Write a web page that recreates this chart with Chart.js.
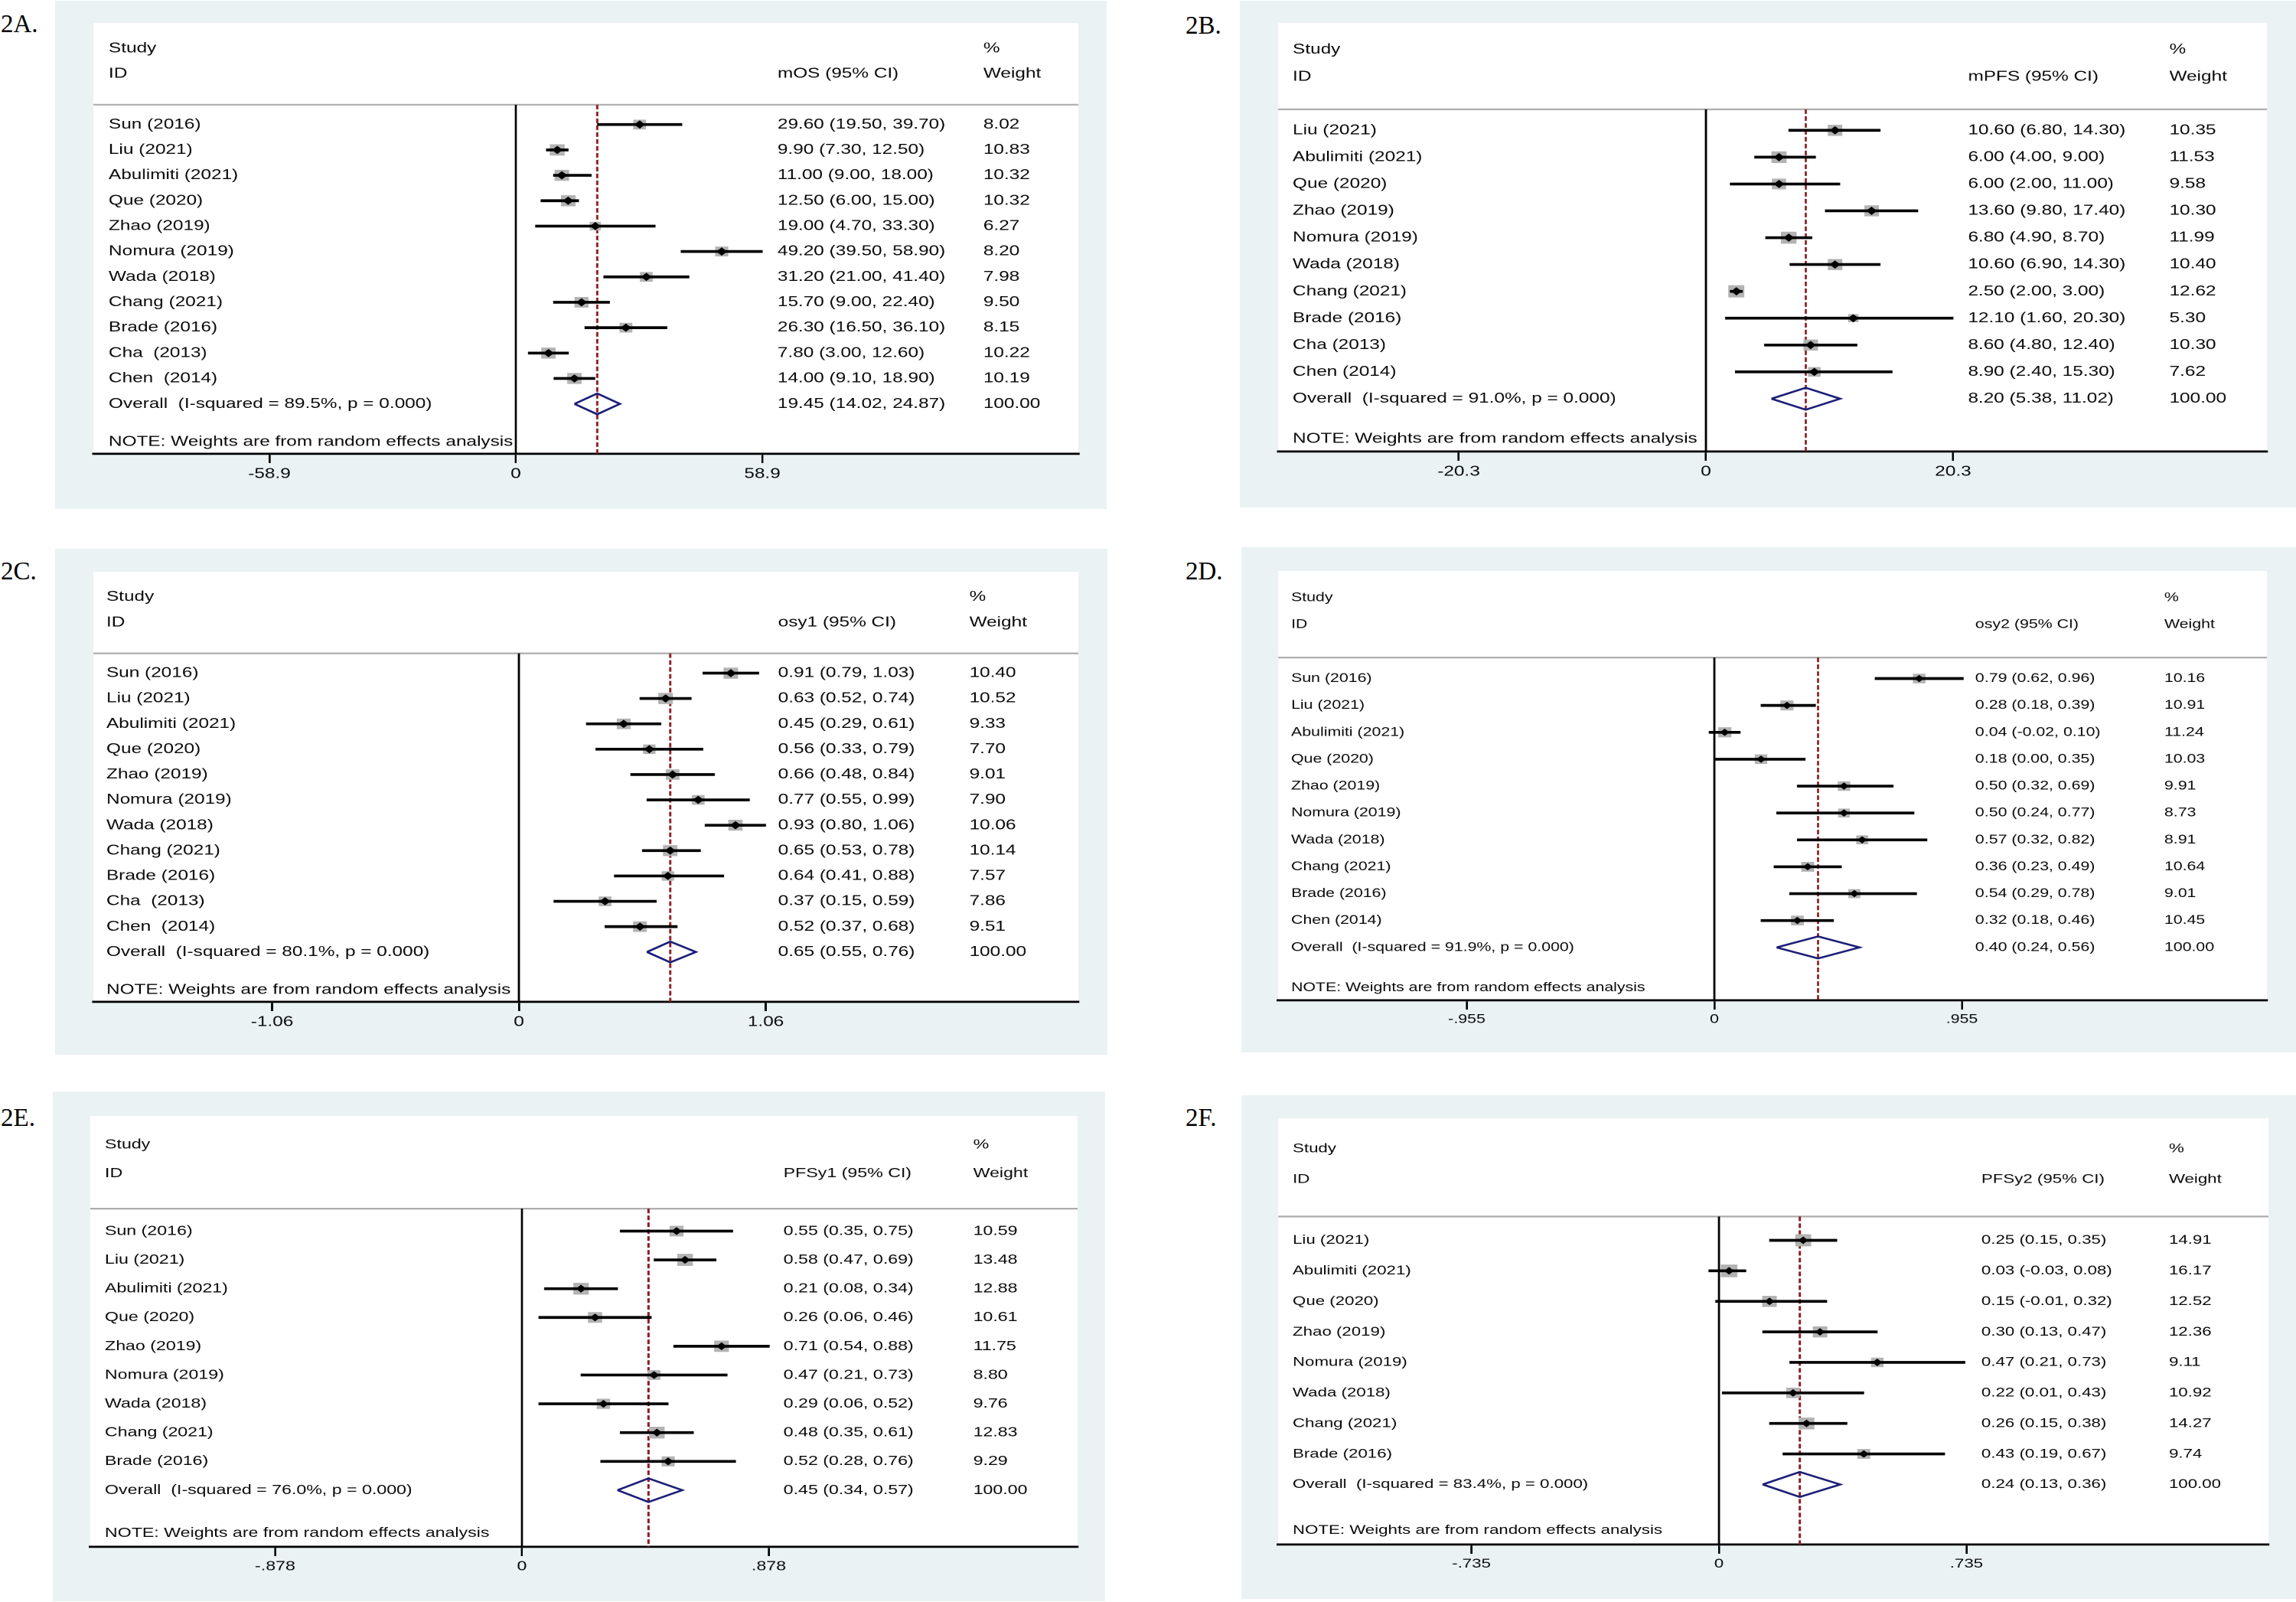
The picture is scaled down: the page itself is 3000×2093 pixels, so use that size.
<!DOCTYPE html>
<html>
<head>
<meta charset="utf-8">
<script src="https://cdn.jsdelivr.net/npm/chart.js@4.4.1/dist/chart.umd.min.js"></script>
<style>
html, body { margin: 0; padding: 0; background: #ffffff; }
#page { position: relative; width: 3000px; height: 2093px; overflow: hidden; background: #ffffff; }
.lbl { position: absolute; font-family: "Liberation Serif", "DejaVu Serif", serif; font-size: 33px; line-height: 33px; color: #000; white-space: nowrap; }
#page canvas { position: absolute; }
</style>
</head>
<body>
<div id="page"></div>
<script>
// ---------------- DATA ----------------
// 2A  mOS
const mosStudies = ["Sun (2016)", "Liu (2021)", "Abulimiti (2021)", "Que (2020)", "Zhao (2019)", "Nomura (2019)", "Wada (2018)", "Chang (2021)", "Brade (2016)", "Cha  (2013)", "Chen  (2014)"];
const mosEst = [29.60, 9.90, 11.00, 12.50, 19.00, 49.20, 31.20, 15.70, 26.30, 7.80, 14.00];
const mosLo = [19.50, 7.30, 9.00, 6.00, 4.70, 39.50, 21.00, 9.00, 16.50, 3.00, 9.10];
const mosHi = [39.70, 12.50, 18.00, 15.00, 33.30, 58.90, 41.40, 22.40, 36.10, 12.60, 18.90];
const mosWeight = [8.02, 10.83, 10.32, 10.32, 6.27, 8.20, 7.98, 9.50, 8.15, 10.22, 10.19];
const mosOverall = [19.45, 14.02, 24.87];
const mosI2 = 89.5;
const mosTickValues = [-58.9, 0, 58.9];
const mosTickLabels = ["-58.9", "0", "58.9"];

// 2B  mPFS
const mpfsStudies = ["Liu (2021)", "Abulimiti (2021)", "Que (2020)", "Zhao (2019)", "Nomura (2019)", "Wada (2018)", "Chang (2021)", "Brade (2016)", "Cha (2013)", "Chen (2014)"];
const mpfsEst = [10.60, 6.00, 6.00, 13.60, 6.80, 10.60, 2.50, 12.10, 8.60, 8.90];
const mpfsLo = [6.80, 4.00, 2.00, 9.80, 4.90, 6.90, 2.00, 1.60, 4.80, 2.40];
const mpfsHi = [14.30, 9.00, 11.00, 17.40, 8.70, 14.30, 3.00, 20.30, 12.40, 15.30];
const mpfsWeight = [10.35, 11.53, 9.58, 10.30, 11.99, 10.40, 12.62, 5.30, 10.30, 7.62];
const mpfsOverall = [8.20, 5.38, 11.02];
const mpfsI2 = 91.0;
const mpfsTickValues = [-20.3, 0, 20.3];
const mpfsTickLabels = ["-20.3", "0", "20.3"];

// 2C  osy1
const osy1Studies = ["Sun (2016)", "Liu (2021)", "Abulimiti (2021)", "Que (2020)", "Zhao (2019)", "Nomura (2019)", "Wada (2018)", "Chang (2021)", "Brade (2016)", "Cha  (2013)", "Chen  (2014)"];
const osy1Est = [0.91, 0.63, 0.45, 0.56, 0.66, 0.77, 0.93, 0.65, 0.64, 0.37, 0.52];
const osy1Lo = [0.79, 0.52, 0.29, 0.33, 0.48, 0.55, 0.80, 0.53, 0.41, 0.15, 0.37];
const osy1Hi = [1.03, 0.74, 0.61, 0.79, 0.84, 0.99, 1.06, 0.78, 0.88, 0.59, 0.68];
const osy1Weight = [10.40, 10.52, 9.33, 7.70, 9.01, 7.90, 10.06, 10.14, 7.57, 7.86, 9.51];
const osy1Overall = [0.65, 0.55, 0.76];
const osy1I2 = 80.1;
const osy1TickValues = [-1.06, 0, 1.06];
const osy1TickLabels = ["-1.06", "0", "1.06"];

// 2D  osy2
const osy2Studies = ["Sun (2016)", "Liu (2021)", "Abulimiti (2021)", "Que (2020)", "Zhao (2019)", "Nomura (2019)", "Wada (2018)", "Chang (2021)", "Brade (2016)", "Chen (2014)"];
const osy2Est = [0.79, 0.28, 0.04, 0.18, 0.50, 0.50, 0.57, 0.36, 0.54, 0.32];
const osy2Lo = [0.62, 0.18, -0.02, 0.00, 0.32, 0.24, 0.32, 0.23, 0.29, 0.18];
const osy2Hi = [0.96, 0.39, 0.10, 0.35, 0.69, 0.77, 0.82, 0.49, 0.78, 0.46];
const osy2Weight = [10.16, 10.91, 11.24, 10.03, 9.91, 8.73, 8.91, 10.64, 9.01, 10.45];
const osy2Overall = [0.40, 0.24, 0.56];
const osy2I2 = 91.9;
const osy2TickValues = [-0.955, 0, 0.955];
const osy2TickLabels = ["-.955", "0", ".955"];

// 2E  PFSy1
const pfsy1Studies = ["Sun (2016)", "Liu (2021)", "Abulimiti (2021)", "Que (2020)", "Zhao (2019)", "Nomura (2019)", "Wada (2018)", "Chang (2021)", "Brade (2016)"];
const pfsy1Est = [0.55, 0.58, 0.21, 0.26, 0.71, 0.47, 0.29, 0.48, 0.52];
const pfsy1Lo = [0.35, 0.47, 0.08, 0.06, 0.54, 0.21, 0.06, 0.35, 0.28];
const pfsy1Hi = [0.75, 0.69, 0.34, 0.46, 0.88, 0.73, 0.52, 0.61, 0.76];
const pfsy1Weight = [10.59, 13.48, 12.88, 10.61, 11.75, 8.80, 9.76, 12.83, 9.29];
const pfsy1Overall = [0.45, 0.34, 0.57];
const pfsy1I2 = 76.0;
const pfsy1TickValues = [-0.878, 0, 0.878];
const pfsy1TickLabels = ["-.878", "0", ".878"];

// 2F  PFSy2
const pfsy2Studies = ["Liu (2021)", "Abulimiti (2021)", "Que (2020)", "Zhao (2019)", "Nomura (2019)", "Wada (2018)", "Chang (2021)", "Brade (2016)"];
const pfsy2Est = [0.25, 0.03, 0.15, 0.30, 0.47, 0.22, 0.26, 0.43];
const pfsy2Lo = [0.15, -0.03, -0.01, 0.13, 0.21, 0.01, 0.15, 0.19];
const pfsy2Hi = [0.35, 0.08, 0.32, 0.47, 0.73, 0.43, 0.38, 0.67];
const pfsy2Weight = [14.91, 16.17, 12.52, 12.36, 9.11, 10.92, 14.27, 9.74];
const pfsy2Overall = [0.24, 0.13, 0.36];
const pfsy2I2 = 83.4;
const pfsy2TickValues = [-0.735, 0, 0.735];
const pfsy2TickLabels = ["-.735", "0", ".735"];

const panelLabels = ["2A.", "2B.", "2C.", "2D.", "2E.", "2F."];
const columnTitles = ["mOS (95% CI)", "mPFS (95% CI)", "osy1 (95% CI)", "osy2 (95% CI)", "PFSy1 (95% CI)", "PFSy2 (95% CI)"];
const pValueText = "0.000";
const totalWeight = 100;
const noteText = "NOTE: Weights are from random effects analysis";

// ---------------- LAYOUT / STYLE ----------------
const S = 1.31;                 // horizontal stretch of the original figure
const FONT = '"Liberation Sans", Arial, sans-serif';
const TEXT = '#0a0a0a';
const PANEL_BG = '#eaf2f3';
const BOX = '#b3b3b3';
const NAVY = '#1c1f78';
const MAROON = '#8c1d24';

const layouts = [
  { grey: [72, 1, 1374, 664],   white: [122, 30, 1287, 563],   zero: 674,  tickPx: 322,   study: 20, estCol: 894, wtCol: 1163, font: 18.6, label: [1, 15] },
  { grey: [1620, 1, 1380, 662], white: [1670, 30, 1292, 560],  zero: 2229, tickPx: 323,   study: 19, estCol: 901, wtCol: 1164, font: 18.6, label: [1549, 17] },
  { grey: [72, 717, 1375, 661], white: [122, 747, 1287, 562],  zero: 678,  tickPx: 322.5, study: 17, estCol: 895, wtCol: 1145, font: 18.6, label: [1, 730] },
  { grey: [1622, 715, 1378, 660], white: [1670, 746, 1292, 561], zero: 2240, tickPx: 323.5, study: 17, estCol: 911, wtCol: 1158, font: 16.3, label: [1549, 730] },
  { grey: [69, 1426, 1375, 666], white: [118, 1458, 1290, 563], zero: 682,  tickPx: 322.5, study: 19, estCol: 906, wtCol: 1154, font: 17.7, label: [1, 1444] },
  { grey: [1622, 1431, 1378, 658], white: [1670, 1461, 1294, 557], zero: 2246, tickPx: 323.5, study: 19, estCol: 919, wtCol: 1164, font: 17.0, label: [1549, 1444] }
];

const panelData = [
  { studies: mosStudies, est: mosEst, lo: mosLo, hi: mosHi, weight: mosWeight, overall: mosOverall, i2: mosI2, tickValues: mosTickValues, tickLabels: mosTickLabels },
  { studies: mpfsStudies, est: mpfsEst, lo: mpfsLo, hi: mpfsHi, weight: mpfsWeight, overall: mpfsOverall, i2: mpfsI2, tickValues: mpfsTickValues, tickLabels: mpfsTickLabels },
  { studies: osy1Studies, est: osy1Est, lo: osy1Lo, hi: osy1Hi, weight: osy1Weight, overall: osy1Overall, i2: osy1I2, tickValues: osy1TickValues, tickLabels: osy1TickLabels },
  { studies: osy2Studies, est: osy2Est, lo: osy2Lo, hi: osy2Hi, weight: osy2Weight, overall: osy2Overall, i2: osy2I2, tickValues: osy2TickValues, tickLabels: osy2TickLabels },
  { studies: pfsy1Studies, est: pfsy1Est, lo: pfsy1Lo, hi: pfsy1Hi, weight: pfsy1Weight, overall: pfsy1Overall, i2: pfsy1I2, tickValues: pfsy1TickValues, tickLabels: pfsy1TickLabels },
  { studies: pfsy2Studies, est: pfsy2Est, lo: pfsy2Lo, hi: pfsy2Hi, weight: pfsy2Weight, overall: pfsy2Overall, i2: pfsy2I2, tickValues: pfsy2TickValues, tickLabels: pfsy2TickLabels }
];

function fmtCI(e, l, h) {
  return e.toFixed(2) + ' (' + l.toFixed(2) + ', ' + h.toFixed(2) + ')';
}

function buildPanel(idx) {
  const L = layouts[idx];
  const D = panelData[idx];
  const page = document.getElementById('page');

  const lab = document.createElement('div');
  lab.className = 'lbl';
  lab.textContent = panelLabels[idx];
  lab.style.left = L.label[0] + 'px';
  lab.style.top = L.label[1] + 'px';
  page.appendChild(lab);

  const [gx, gy, gw, gh] = L.grey;
  const [wx, wy, ww, wh] = L.white;
  const cv = document.createElement('canvas');
  cv.width = Math.round(gw / S);
  cv.height = gh;
  cv.style.left = gx + 'px';
  cv.style.top = gy + 'px';
  cv.style.width = gw + 'px';
  cv.style.height = gh + 'px';
  page.appendChild(cv);

  const k = D.studies.length;
  const yTop = -4, ySep = -0.78, yBot = k + 1.97;
  const step = D.tickValues[2];
  const xMin = -(L.zero - wx) / L.tickPx * step;
  const xMax = (wx + ww - L.zero) / L.tickPx * step;
  const fs = L.font / 18.6;
  const [oEst, oLo, oHi] = D.overall;

  const forestPlugin = {
    id: 'forest' + idx,
    beforeDraw(chart) {
      const { ctx, chartArea: ca, scales } = chart;
      ctx.save();
      ctx.fillStyle = PANEL_BG;
      ctx.fillRect(0, 0, chart.width, chart.height);
      ctx.fillStyle = '#ffffff';
      ctx.fillRect(ca.left, ca.top, ca.right - ca.left, ca.bottom - ca.top);
      const ys = scales.y.getPixelForValue(ySep);
      ctx.strokeStyle = '#adadad';
      ctx.lineWidth = 2.2;
      ctx.beginPath();
      ctx.moveTo(ca.left, ys);
      ctx.lineTo(ca.right, ys);
      ctx.stroke();
      ctx.restore();
    },
    beforeDatasetsDraw(chart) {
      const { ctx, chartArea: ca, scales } = chart;
      const y = scales.y;
      ctx.save();
      ctx.font = L.font + 'px ' + FONT;
      ctx.fillStyle = TEXT;
      ctx.textBaseline = 'middle';
      ctx.textAlign = 'left';
      const xs = ca.left + L.study / S;
      const xe = ca.left + L.estCol / S;
      const xw = ca.left + L.wtCol / S;
      const t = (s, x, r) => ctx.fillText(s, x, y.getPixelForValue(r));
      t('Study', xs, -3);
      t('ID', xs, -2);
      t(columnTitles[idx], xe, -2);
      t('%', xw, -3);
      t('Weight', xw, -2);
      D.studies.forEach((s, i) => {
        t(s, xs, i);
        t(fmtCI(D.est[i], D.lo[i], D.hi[i]), xe, i);
        t(D.weight[i].toFixed(2), xw, i);
      });
      t('Overall  (I-squared = ' + D.i2.toFixed(1) + '%, p = ' + pValueText + ')', xs, k);
      t(fmtCI(oEst, oLo, oHi), xe, k);
      t(totalWeight.toFixed(2), xw, k);
      t(noteText, xs, k + 1.5);
      ctx.restore();
    }
  };

  new Chart(cv, {
    type: 'scatter',
    data: {
      datasets: [
        {
          type: 'line', label: 'Overall',
          data: [{ x: oLo, y: k }, { x: oEst, y: k - 0.41 }, { x: oHi, y: k }, { x: oEst, y: k + 0.41 }, { x: oLo, y: k }],
          borderColor: NAVY, borderWidth: 2.5, pointRadius: 0, fill: false, tension: 0,
          borderJoinStyle: 'miter', order: 0
        },
        {
          type: 'scatter', label: 'Estimate',
          data: D.est.map((v, i) => ({ x: v, y: i })),
          pointStyle: 'rectRot', pointRadius: 5.4 * fs, pointBackgroundColor: '#000', pointBorderWidth: 0,
          backgroundColor: '#000', order: 1
        },
        {
          type: 'bar', label: '95% CI', indexAxis: 'y',
          data: D.lo.map((v, i) => ({ x: [v, D.hi[i]], y: i })),
          backgroundColor: '#000', barThickness: 3, grouped: false, order: 2
        },
        {
          type: 'scatter', label: 'Weight',
          data: D.est.map((v, i) => ({ x: v, y: i })),
          pointStyle: 'rect', pointRadius: D.weight.map(w => 4.5 * Math.sqrt(w) * fs / Math.SQRT2),
          pointBackgroundColor: BOX, backgroundColor: BOX, pointBorderWidth: 0, order: 3
        },
        {
          type: 'line', label: 'Pooled',
          data: [{ x: oEst, y: ySep }, { x: oEst, y: yBot }],
          borderColor: MAROON, borderWidth: 2.2, borderDash: [6, 3], pointRadius: 0, fill: false, order: 4
        },
        {
          type: 'line', label: 'Null',
          data: [{ x: 0, y: ySep }, { x: 0, y: yBot }],
          borderColor: '#000', borderWidth: 2.1, pointRadius: 0, fill: false, order: 5
        }
      ]
    },
    options: {
      responsive: false,
      maintainAspectRatio: false,
      animation: false,
      devicePixelRatio: 2,
      events: [],
      layout: { padding: { left: (wx - gx) / S, right: (gx + gw - wx - ww) / S, top: wy - gy, bottom: 0 } },
      plugins: { legend: { display: false }, tooltip: { enabled: false } },
      scales: {
        x: {
          type: 'linear', position: 'bottom', min: xMin, max: xMax, offset: false, beginAtZero: false,
          afterBuildTicks: ax => { ax.ticks = D.tickValues.map(v => ({ value: v })); },
          afterFit: ax => { ax.height = gy + gh - (wy + wh); },
          ticks: {
            callback: (v, i) => D.tickLabels[i],
            font: { family: FONT, size: L.font }, color: TEXT, padding: 3,
            maxRotation: 0, minRotation: 0, autoSkip: false
          },
          grid: { offset: false, drawOnChartArea: false, drawTicks: true, tickLength: 12, color: '#000', lineWidth: 2 },
          border: { display: true, color: '#000', width: 2.8 }
        },
        y: { type: 'linear', display: false, reverse: true, min: yTop, max: yBot, offset: false, grid: { offset: false } }
      }
    },
    plugins: [forestPlugin]
  });
}

for (let i = 0; i < 6; i++) buildPanel(i);
</script>
</body>
</html>
